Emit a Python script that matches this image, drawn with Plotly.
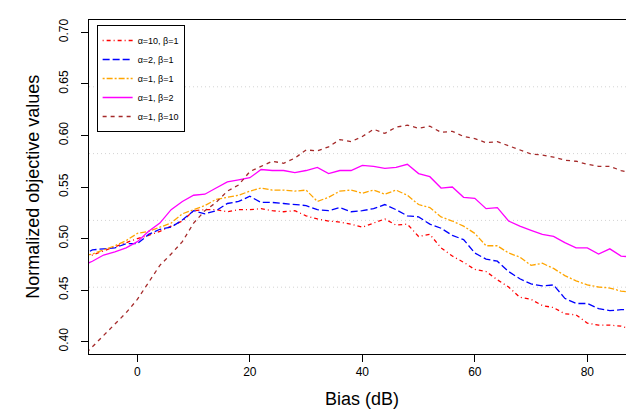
import plotly.graph_objects as go

# bias grid (dB)
bias = list(range(-10, 92, 2))

# normalized objective values, one list per (alpha, beta) setting
a10_b1 = [0.481, 0.484, 0.488, 0.492, 0.496, 0.500, 0.503, 0.507, 0.512, 0.517,
          0.527, 0.528, 0.528, 0.526, 0.528, 0.528, 0.529, 0.527, 0.526, 0.527,
          0.522, 0.519, 0.517, 0.516, 0.514, 0.511, 0.515, 0.519, 0.513, 0.514,
          0.502, 0.504, 0.491, 0.483, 0.477, 0.470, 0.468, 0.460, 0.453, 0.443,
          0.441, 0.435, 0.433, 0.427, 0.426, 0.418, 0.416, 0.416, 0.415, 0.412, 0.411]
a2_b1 = [0.483, 0.489, 0.490, 0.491, 0.495, 0.495, 0.504, 0.509, 0.511, 0.518,
         0.527, 0.524, 0.527, 0.534, 0.536, 0.541, 0.535, 0.535, 0.534, 0.533,
         0.532, 0.528, 0.527, 0.530, 0.526, 0.527, 0.529, 0.533, 0.528, 0.522,
         0.521, 0.514, 0.510, 0.503, 0.499, 0.486, 0.480, 0.478, 0.468, 0.461,
         0.456, 0.454, 0.455, 0.442, 0.437, 0.437, 0.432, 0.430, 0.431, 0.431, 0.430]
a1_b1 = [0.483, 0.485, 0.489, 0.493, 0.498, 0.505, 0.507, 0.511, 0.515, 0.524,
         0.528, 0.532, 0.538, 0.540, 0.542, 0.546, 0.549, 0.547, 0.547, 0.546,
         0.547, 0.536, 0.540, 0.546, 0.547, 0.544, 0.547, 0.543, 0.547, 0.542,
         0.533, 0.530, 0.521, 0.517, 0.512, 0.505, 0.493, 0.493, 0.486, 0.482,
         0.474, 0.476, 0.471, 0.464, 0.459, 0.455, 0.453, 0.452, 0.449, 0.448, 0.447]
a1_b2 = [0.473, 0.478, 0.484, 0.487, 0.491, 0.497, 0.507, 0.515, 0.528, 0.536,
         0.542, 0.543, 0.549, 0.555, 0.557, 0.559, 0.567, 0.566, 0.566, 0.564,
         0.566, 0.569, 0.563, 0.566, 0.566, 0.571, 0.570, 0.568, 0.569, 0.572,
         0.563, 0.560, 0.549, 0.550, 0.540, 0.539, 0.529, 0.530, 0.517, 0.512,
         0.508, 0.504, 0.502, 0.496, 0.491, 0.491, 0.485, 0.490, 0.483, 0.482, 0.482]
a1_b10 = [0.384, 0.395, 0.405, 0.417, 0.428, 0.441, 0.457, 0.474, 0.485, 0.497,
          0.515, 0.527, 0.535, 0.546, 0.552, 0.565, 0.570, 0.575, 0.573, 0.578,
          0.586, 0.585, 0.589, 0.596, 0.594, 0.599, 0.606, 0.602, 0.608, 0.610,
          0.607, 0.609, 0.603, 0.604, 0.599, 0.597, 0.593, 0.594, 0.590, 0.586,
          0.582, 0.581, 0.579, 0.576, 0.575, 0.572, 0.570, 0.570, 0.566, 0.563, 0.561]

labels = ["α=10, β=1", "α=2, β=1", "α=1, β=1", "α=1, β=2", "α=1, β=10"]
series = [a10_b1, a2_b1, a1_b1, a1_b2, a1_b10]
colors = ["#FF0000", "#0000FF", "#FFA500", "#FF00FF", "#A52A2A"]
dashes = ["1px,3px,4px,3px", "7px,3px", "2px,2px,6px,2px", "solid", "4px,4px"]

fig = go.Figure()
for lab, vals, col, dash in zip(labels, series, colors, dashes):
    fig.add_trace(go.Scatter(x=bias, y=vals, mode="lines", name=lab,
                             line=dict(color=col, width=1.3, dash=dash)))

y_lo, y_hi = 0.388, 0.712

# dotted horizontal grid, 5 equal cells like R's grid()
for k in range(1, 5):
    yy = y_lo + (y_hi - y_lo) * k / 5
    fig.add_shape(type="line", xref="paper", yref="y", x0=0, x1=1, y0=yy, y1=yy,
                  line=dict(color="#D3D3D3", width=1, dash="1px,3px"), layer="below")

font = "Liberation Sans, Arial, sans-serif"
fig.update_layout(
    width=634, height=412,
    margin=dict(l=81, r=8, t=12, b=66),
    paper_bgcolor="white", plot_bgcolor="white",
    font=dict(family=font, color="black", size=12),
    showlegend=True,
    legend=dict(x=0.014, y=0.985, xanchor="left", yanchor="top",
                bgcolor="white", bordercolor="black", borderwidth=1,
                font=dict(size=9, family=font), itemwidth=30,
                tracegroupgap=0),
    xaxis=dict(range=[-8.6, 88.3], tickvals=[0, 20, 40, 60, 80],
               showgrid=False, zeroline=False, showline=True, mirror=True,
               linecolor="black", linewidth=1, ticks="outside", ticklen=7,
               tickcolor="black", tickfont=dict(size=12)),
    yaxis=dict(range=[y_lo, y_hi], tickvals=[0.40, 0.45, 0.50, 0.55, 0.60, 0.65, 0.70],
               tickformat=".2f", tickangle=-90, ticklabelstandoff=8,
               showgrid=False, zeroline=False, showline=True, mirror=True,
               linecolor="black", linewidth=1, ticks="outside", ticklen=7,
               tickcolor="black", tickfont=dict(size=12)),
    annotations=[
        dict(text="Bias (dB)", xref="paper", yref="paper", x=0.5, y=-0.136,
             xanchor="center", yanchor="middle", showarrow=False,
             font=dict(size=18, family=font)),
        dict(text="Normalized objective values", xref="paper", yref="paper",
             x=-0.103, y=0.5, xanchor="center", yanchor="middle", showarrow=False,
             textangle=-90, font=dict(size=18, family=font)),
    ],
)

fig.write_html("out.html")
